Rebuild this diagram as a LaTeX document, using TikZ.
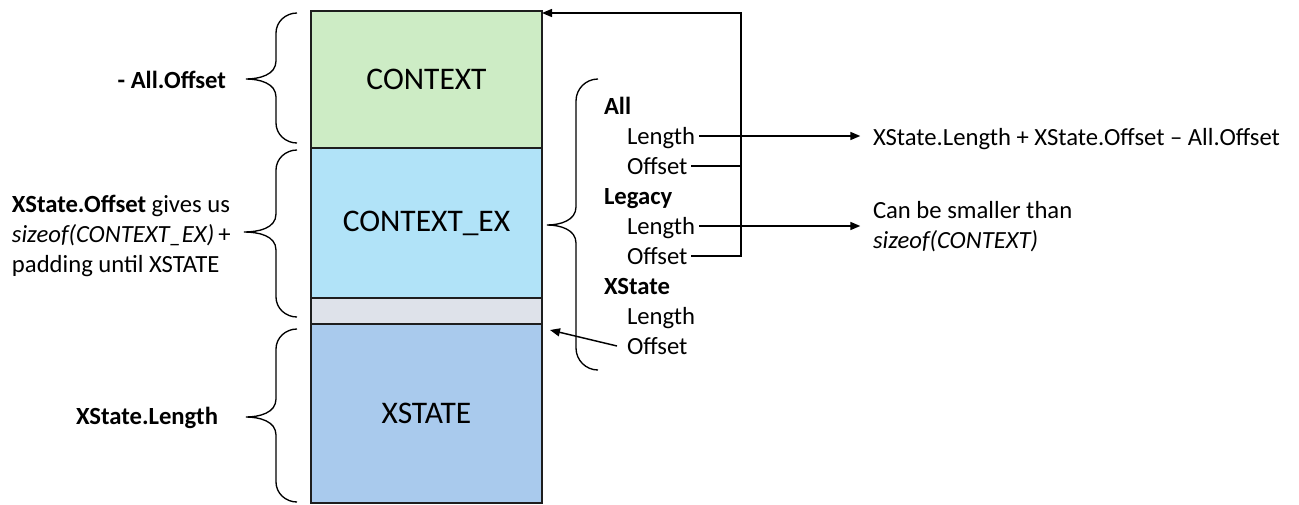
\documentclass[tikz,border=0pt]{standalone}
\usepackage{fontspec}
\setmainfont{Carlito}
\usetikzlibrary{arrows.meta}
\definecolor{cgreen}{RGB}{205,236,197}
\definecolor{cblue}{RGB}{177,227,248}
\definecolor{cgray}{RGB}{222,226,234}
\definecolor{cxs}{RGB}{169,202,237}
\definecolor{edge}{RGB}{30,30,30}
\newcommand{\smallf}{\fontsize{18.5pt}{22.5pt}\selectfont}
\newcommand{\bigf}{\fontsize{23.6pt}{28pt}\selectfont}
\tikzset{
  mem/.style={draw=edge, line width=1.1pt, rectangle, inner sep=0pt, outer sep=0pt,
              minimum width=173.25pt, font=\bigf, text=black},
  lbl/.style={inner sep=0pt, outer sep=0pt, text height=12pt, text depth=0pt, font=\smallf},
  txt/.style={inner sep=0pt, outer sep=0pt, font=\smallf, align=left},
  conn/.style={draw=black, line width=1.1pt},
  arr/.style={conn, -{Triangle[length=7.5pt,width=6pt]}},
  brc/.style={draw=black, line width=1pt},
}
\begin{document}
\begin{tikzpicture}[x=0.75pt, y=-0.75pt]
\useasboundingbox (0,0) rectangle (1299,504);

% memory boxes
\node[mem, fill=cgreen, minimum height=102.75pt, anchor=north west] (ctx) at (311,11) {CONTEXT};
\node[mem, fill=cblue, minimum height=112.5pt, anchor=north west] (ctxex) at (311,148) {CONTEXT\_EX};
\node[mem, fill=cgray, minimum height=19.5pt, anchor=north west] (pad) at (311,298) {};
\node[mem, fill=cxs, minimum height=134.25pt, anchor=north west] (xs) at (311,324) {XSTATE};

% left braces
\draw[brc] (297,13) to[out=180,in=90] (276,33) -- (276,61) to[out=-90,in=0] (246,79)
           to[out=0,in=90] (276,97) -- (276,123) to[out=-90,in=180] (297,143);
\draw[brc] (297,150) to[out=180,in=90] (276,170) -- (276,214) to[out=-90,in=0] (244,232)
           to[out=0,in=90] (276,250) -- (276,297) to[out=-90,in=180] (297,317);
\draw[brc] (297,329) to[out=180,in=90] (276,349) -- (276,399) to[out=-90,in=0] (246,417)
           to[out=0,in=90] (276,435) -- (276,482) to[out=-90,in=180] (297,502);

% right brace
\draw[brc] (598,79) to[out=180,in=90] (576,101) -- (576,207) to[out=-90,in=0] (547,225)
           to[out=0,in=90] (576,243) -- (576,348) to[out=-90,in=180] (598,370);

% left labels
\node[lbl, anchor=east] (aoff) at (226,80) {\textbf{- All.Offset}};
\node[txt, anchor=west] (xoffl) at (12,236) {\textbf{XState.Offset} gives us\\\textit{sizeof(CONTEXT\_EX)}\,+\\padding until XSTATE};
\node[lbl, anchor=east] (xlen) at (218,416) {\textbf{XState.Length}};

% right list
\node[lbl, anchor=west] (all) at (604,106) {\textbf{All}};
\node[lbl, anchor=west] (allLen) at (627,136) {Length};
\node[lbl, anchor=west] (allOff) at (627,166) {Offset};
\node[lbl, anchor=west] (leg) at (604,196) {\textbf{Legacy}};
\node[lbl, anchor=west] (legLen) at (627,226) {Length};
\node[lbl, anchor=west] (legOff) at (627,256) {Offset};
\node[lbl, anchor=west] (xst) at (604,286) {\textbf{XState}};
\node[lbl, anchor=west] (xsLen) at (627,316) {Length};
\node[lbl, anchor=west] (xsOff) at (627,346) {Offset};

% right texts
\node[lbl, anchor=west] (expr) at (873,137) {XState.Length + XState.Offset -- All.Offset};
\node[txt, anchor=west] (can) at (873,227) {Can be smaller than\\\textit{sizeof(CONTEXT)}};

% connectors
\coordinate (vtop) at (741,13);
\draw[arr] ([xshift=3pt]allLen.east) -- ([xshift=-9.5pt]expr.west |- allLen.east);
\draw[arr] ([xshift=3pt]legLen.east) -- ([xshift=-9.5pt]can.west |- legLen.east);
\draw[conn] ([xshift=3pt]allOff.east) -- (allOff.east -| vtop);
\draw[arr] ([xshift=3pt]legOff.east) -| (vtop) -- (ctx.east |- vtop);
\draw[arr] ([xshift=-7.5pt]xsOff.west) -- ([shift={(8,6)}]pad.south east);
\end{tikzpicture}
\end{document}
